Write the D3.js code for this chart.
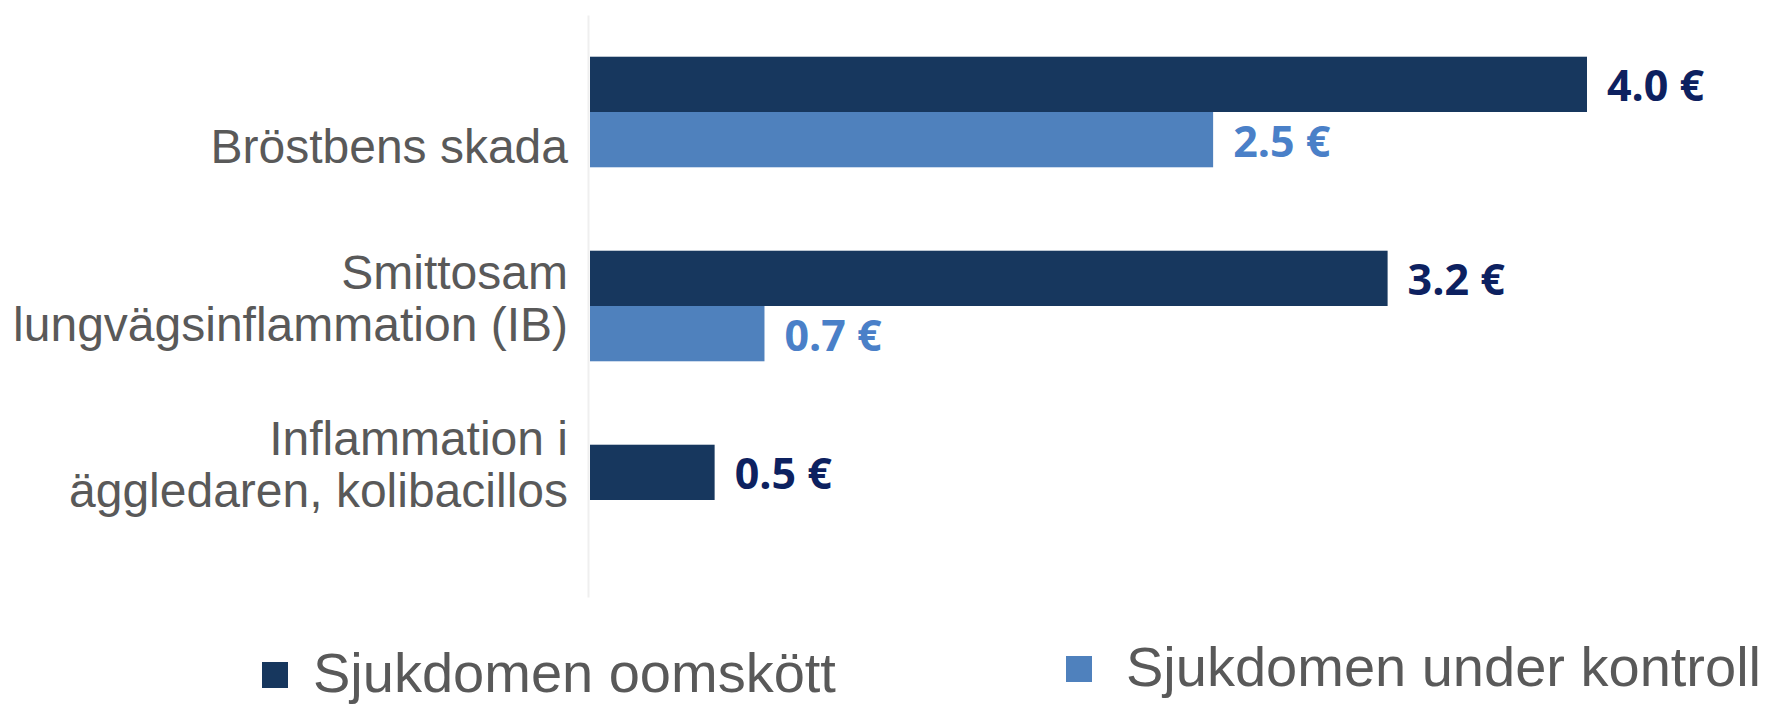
<!DOCTYPE html>
<html>
<head>
<meta charset="utf-8">
<script src="https://cdn.jsdelivr.net/npm/d3@7/dist/d3.min.js"></script>
<style>
  html, body { margin: 0; padding: 0; background: #ffffff; }
  svg { display: block; }
</style>
</head>
<body>
<script>
// ---- data ----
const categories = ["Bröstbens skada", "Smittosam lungvägsinflammation (IB)", "Inflammation i äggledaren, kolibacillos"];
const categoryLines = [
  ["Bröstbens skada"],
  ["Smittosam", "lungvägsinflammation (IB)"],
  ["Inflammation i", "äggledaren, kolibacillos"]
];
const seriesNames = ["Sjukdomen oomskött", "Sjukdomen under kontroll"];
const uncontrolled = [4.0, 3.2, 0.5];
const controlled = [2.5, 0.7, null];

// ---- layout / style ----
const W = 1767, H = 704;
const colors = ["#17375e", "#4f81bd"];
const labelColors = ["#0d2160", "#4a80c8"];
const labelOffsets = [34, -8, -36]; // vertical shift of category label blocks
const lineGap = 52;

const svg = d3.select("body").append("svg").attr("width", W).attr("height", H);

const x = d3.scaleLinear().domain([0, 4]).range([590, 1587]);
const y0 = d3.scaleBand().domain(categories).range([15, 597]).paddingInner(0.43).paddingOuter(0.215);
const y1 = d3.scaleBand().domain(seriesNames).range([0, y0.bandwidth()]);

// faint vertical axis line
const axis = svg.append("g").attr("transform", "translate(588,0)")
  .call(d3.axisLeft(y0).tickSize(0).tickFormat(""));
axis.select(".domain").attr("stroke", "#efefef").attr("stroke-width", 2);

const rows = categories.map((c, i) => ({ cat: c, vals: [uncontrolled[i], controlled[i]] }));

const groups = svg.selectAll("g.grp").data(rows).join("g")
  .attr("class", "grp")
  .attr("transform", d => `translate(0,${y0(d.cat)})`);

groups.selectAll("rect").data(d => d.vals.map((v, k) => ({ v, k })).filter(e => e.v != null))
  .join("rect")
  .attr("x", x(0))
  .attr("y", e => y1(seriesNames[e.k]))
  .attr("width", e => x(e.v) - x(0))
  .attr("height", y1.bandwidth())
  .attr("fill", e => colors[e.k]);

const fmt = d3.format(".1f");
groups.selectAll("text.val").data(d => d.vals.map((v, k) => ({ v, k })).filter(e => e.v != null))
  .join("text")
  .attr("class", "val")
  .attr("x", e => x(e.v) + 20)
  .attr("y", e => y1(seriesNames[e.k]) + y1.bandwidth() / 2 + 17)
  .attr("font-family", "'Open Sans', sans-serif")
  .attr("font-weight", 700)
  .attr("font-size", 43)
  .attr("fill", e => labelColors[e.k])
  .text(e => fmt(e.v) + " €");

// category labels
categories.forEach((c, i) => {
  const lines = categoryLines[i];
  const center = y0(c) + y0.bandwidth() / 2 + labelOffsets[i];
  const first = center - (lines.length - 1) * lineGap / 2 + 16.5;
  const t = svg.append("text")
    .attr("text-anchor", "end")
    .attr("font-family", "'Liberation Sans', Arial, sans-serif")
    .attr("font-size", 48)
    .attr("fill", "#595959");
  lines.forEach((ln, j) => {
    t.append("tspan").attr("x", 568).attr("y", first + j * lineGap).text(ln);
  });
});

// legend
const legendX = [262, 1066];
const legendTextGap = [51, 60];
const legendY = [692, 686];
const legend = svg.selectAll("g.leg").data(seriesNames).join("g").attr("class", "leg");
legend.append("rect")
  .attr("x", (d, i) => legendX[i])
  .attr("y", (d, i) => legendY[i] - 30)
  .attr("width", 26).attr("height", 26)
  .attr("fill", (d, i) => colors[i]);
legend.append("text")
  .attr("x", (d, i) => legendX[i] + legendTextGap[i])
  .attr("y", (d, i) => legendY[i])
  .attr("font-family", "'Liberation Sans', Arial, sans-serif")
  .attr("font-size", 56)
  .attr("fill", "#595959")
  .text(d => d);
</script>
</body>
</html>
